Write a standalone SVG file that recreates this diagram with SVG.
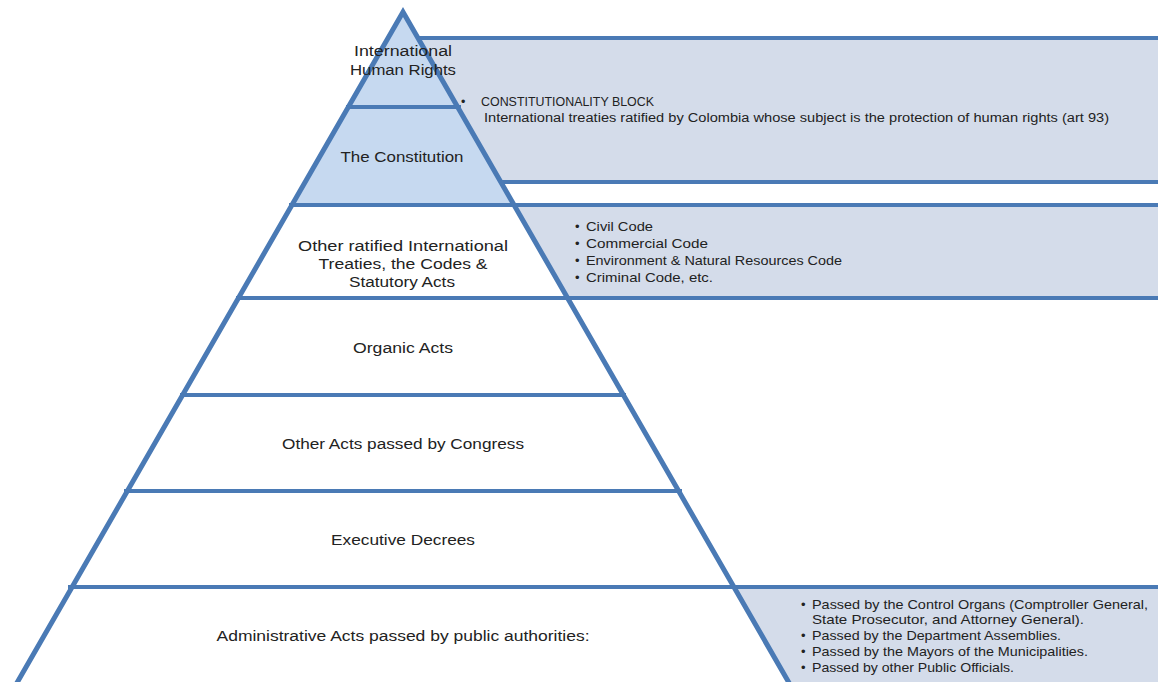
<svg xmlns="http://www.w3.org/2000/svg" width="1158" height="682" viewBox="0 0 1158 682">
<style>
.panel{fill:#d4dcea}
.pline{stroke:#4a7ab5;stroke-width:4;fill:none}
.tier{stroke:#4a7ab5;stroke-width:4;fill:none}
.t{font-family:"Liberation Sans",Arial,sans-serif;fill:#222;font-size:15.5px;text-anchor:middle}
.s{font-family:"Liberation Sans",Arial,sans-serif;fill:#222;font-size:12.5px}
.m{font-family:"Liberation Sans",Arial,sans-serif;fill:#222;font-size:13px}
</style>
<rect width="1158" height="682" fill="#ffffff"/>
<g id="panels">
<g id="panel-constitutionality">
<rect class="panel" x="400" y="38" width="758" height="144"/>
<line class="pline" x1="400" y1="38" x2="1158" y2="38"/>
<line class="pline" x1="400" y1="182" x2="1158" y2="182"/>
</g>
<g id="panel-codes">
<rect class="panel" x="400" y="205" width="758" height="93"/>
<line class="pline" x1="400" y1="205" x2="1158" y2="205"/>
<line class="pline" x1="400" y1="298" x2="1158" y2="298"/>
</g>
<g id="panel-admin">
<rect class="panel" x="400" y="587" width="758" height="95"/>
<line class="pline" x1="400" y1="587" x2="1158" y2="587"/>
</g>
</g>
<g id="pyramid">
<polygon points="403,12 14,688 792,688" fill="#ffffff"/>
<polygon points="403,12 291,206 515,206" fill="#c6d9f0"/>
<g id="connectors">
<line class="tier" x1="346" y1="107" x2="461" y2="107"/>
<line class="tier" x1="289" y1="205" x2="1158" y2="205"/>
<line class="tier" x1="236" y1="298" x2="570" y2="298"/>
<line class="tier" x1="180" y1="395" x2="626" y2="395"/>
<line class="tier" x1="124" y1="491" x2="682" y2="491"/>
<line class="tier" x1="68" y1="587" x2="738" y2="587"/>
</g>
<polyline points="14,688 403,12 792,688" fill="none" stroke="#4a7ab5" stroke-width="5" stroke-linejoin="miter"/>
</g>
<g id="tier-human-rights"><text class="t" x="403" y="56" textLength="98" lengthAdjust="spacingAndGlyphs">International</text><text class="t" x="403" y="75" textLength="106" lengthAdjust="spacingAndGlyphs">Human Rights</text></g>
<g id="tier-constitution"><text class="t" x="402" y="162" textLength="123" lengthAdjust="spacingAndGlyphs">The Constitution</text></g>
<g id="tier-treaties"><text class="t" x="403" y="251" textLength="210" lengthAdjust="spacingAndGlyphs">Other  ratified International</text><text class="t" x="403" y="269" textLength="169" lengthAdjust="spacingAndGlyphs">Treaties,  the Codes &amp;</text><text class="t" x="402" y="287" textLength="106" lengthAdjust="spacingAndGlyphs">Statutory Acts</text></g>
<g id="tier-organic"><text class="t" x="403" y="353" textLength="100" lengthAdjust="spacingAndGlyphs">Organic Acts</text></g>
<g id="tier-congress"><text class="t" x="403" y="449" textLength="242" lengthAdjust="spacingAndGlyphs">Other Acts passed by Congress</text></g>
<g id="tier-decrees"><text class="t" x="403" y="545" textLength="144" lengthAdjust="spacingAndGlyphs">Executive Decrees</text></g>
<g id="tier-admin"><text class="t" x="403" y="641" textLength="373" lengthAdjust="spacingAndGlyphs">Administrative Acts passed by public authorities:</text></g>
<g id="text-constitutionality">
<text class="s" x="461" y="106">•</text>
<text class="s" x="481" y="106" textLength="173" lengthAdjust="spacingAndGlyphs">CONSTITUTIONALITY BLOCK</text>
<text class="s" x="484" y="122" textLength="625" lengthAdjust="spacingAndGlyphs">International treaties ratified by Colombia whose subject is the protection of human rights (art 93)</text>
</g>
<g id="text-codes">
<text class="m" x="575" y="231">•</text><text class="m" x="586" y="231" textLength="67" lengthAdjust="spacingAndGlyphs">Civil Code</text>
<text class="m" x="575" y="248">•</text><text class="m" x="586" y="248" textLength="122" lengthAdjust="spacingAndGlyphs">Commercial Code</text>
<text class="m" x="575" y="265">•</text><text class="m" x="586" y="265" textLength="256" lengthAdjust="spacingAndGlyphs">Environment &amp; Natural Resources Code</text>
<text class="m" x="575" y="282">•</text><text class="m" x="586" y="282" textLength="127" lengthAdjust="spacingAndGlyphs">Criminal Code, etc.</text>
</g>
<g id="text-admin">
<text class="m" x="801" y="609">•</text><text class="m" x="812" y="609" textLength="336" lengthAdjust="spacingAndGlyphs">Passed by the Control Organs (Comptroller General,</text>
<text class="m" x="812" y="624" textLength="272" lengthAdjust="spacingAndGlyphs">State Prosecutor, and Attorney General).</text>
<text class="m" x="801" y="640">•</text><text class="m" x="812" y="640" textLength="249" lengthAdjust="spacingAndGlyphs">Passed by the Department Assemblies.</text>
<text class="m" x="801" y="656">•</text><text class="m" x="812" y="656" textLength="276" lengthAdjust="spacingAndGlyphs">Passed by the Mayors of the Municipalities.</text>
<text class="m" x="801" y="672">•</text><text class="m" x="812" y="672" textLength="202" lengthAdjust="spacingAndGlyphs">Passed by other Public Officials.</text>
</g>
</svg>
